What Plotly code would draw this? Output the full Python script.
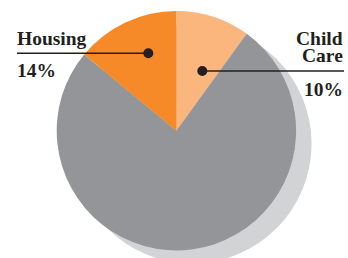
import plotly.graph_objects as go

# Data
categories = ["Child Care", "Other", "Housing"]
values = [10, 76, 14]
colors = ["#fbb67e", "#939598", "#f68a28"]
label_texts = ["Housing", "14%", "Child", "Care", "10%"]

W, H = 348, 258
cx, cy, r = 176.4, 130.7, 119.7
sdx, sdy = 15.5, 13.0

def px(x):
    return x / W

def py(y):
    return 1 - y / H

fig = go.Figure()
fig.add_trace(go.Pie(
    labels=categories,
    values=values,
    sort=False,
    direction="clockwise",
    rotation=0,
    textinfo="none",
    hoverinfo="label+percent",
    marker=dict(colors=colors, line=dict(width=0)),
    domain=dict(x=[px(cx - r), px(cx + r)], y=[py(cy + r), py(cy - r)]),
    showlegend=False,
))

ink = "#231f20"
shapes = [
    # shadow
    dict(type="circle", xref="paper", yref="paper", layer="below",
         x0=px(cx + sdx - r), x1=px(cx + sdx + r),
         y0=py(cy + sdy + r), y1=py(cy + sdy - r),
         fillcolor="#d1d3d4", line=dict(width=0)),
    # housing leader
    dict(type="line", xref="paper", yref="paper", x0=px(17), x1=px(148), y0=py(53.3), y1=py(53.3),
         line=dict(color=ink, width=1.6)),
    dict(type="circle", xref="paper", yref="paper", x0=px(143.3), x1=px(153.3), y0=py(58.3), y1=py(48.3),
         fillcolor=ink, line=dict(width=0)),
    # child care leader
    dict(type="line", xref="paper", yref="paper", x0=px(202), x1=px(344), y0=py(71), y1=py(71),
         line=dict(color=ink, width=1.6)),
    dict(type="circle", xref="paper", yref="paper", x0=px(197.3), x1=px(207.3), y0=py(76), y1=py(66),
         fillcolor=ink, line=dict(width=0)),
]

font = dict(family="Liberation Serif", size=19.5, color=ink, weight="bold")
ann = [
    dict(text=label_texts[0], x=px(16), y=py(38.5), xanchor="left", yanchor="middle"),
    dict(text=label_texts[1], x=px(16), y=py(70.5), xanchor="left", yanchor="middle"),
    dict(text=label_texts[2], x=px(344), y=py(38.5), xanchor="right", yanchor="middle"),
    dict(text=label_texts[3], x=px(344), y=py(56), xanchor="right", yanchor="middle"),
    dict(text=label_texts[4], x=px(344), y=py(89.5), xanchor="right", yanchor="middle"),
]
for a in ann:
    a.update(xref="paper", yref="paper", showarrow=False, font=font, borderpad=0)

fig.update_layout(
    width=W, height=H,
    margin=dict(l=0, r=0, t=0, b=0),
    paper_bgcolor="white",
    plot_bgcolor="white",
    shapes=shapes,
    annotations=ann,
)

fig.write_html(
    "out.html",
    config={"displayModeBar": False},
    post_script="document.body.style.margin='0';document.body.style.overflow='hidden';",
)
